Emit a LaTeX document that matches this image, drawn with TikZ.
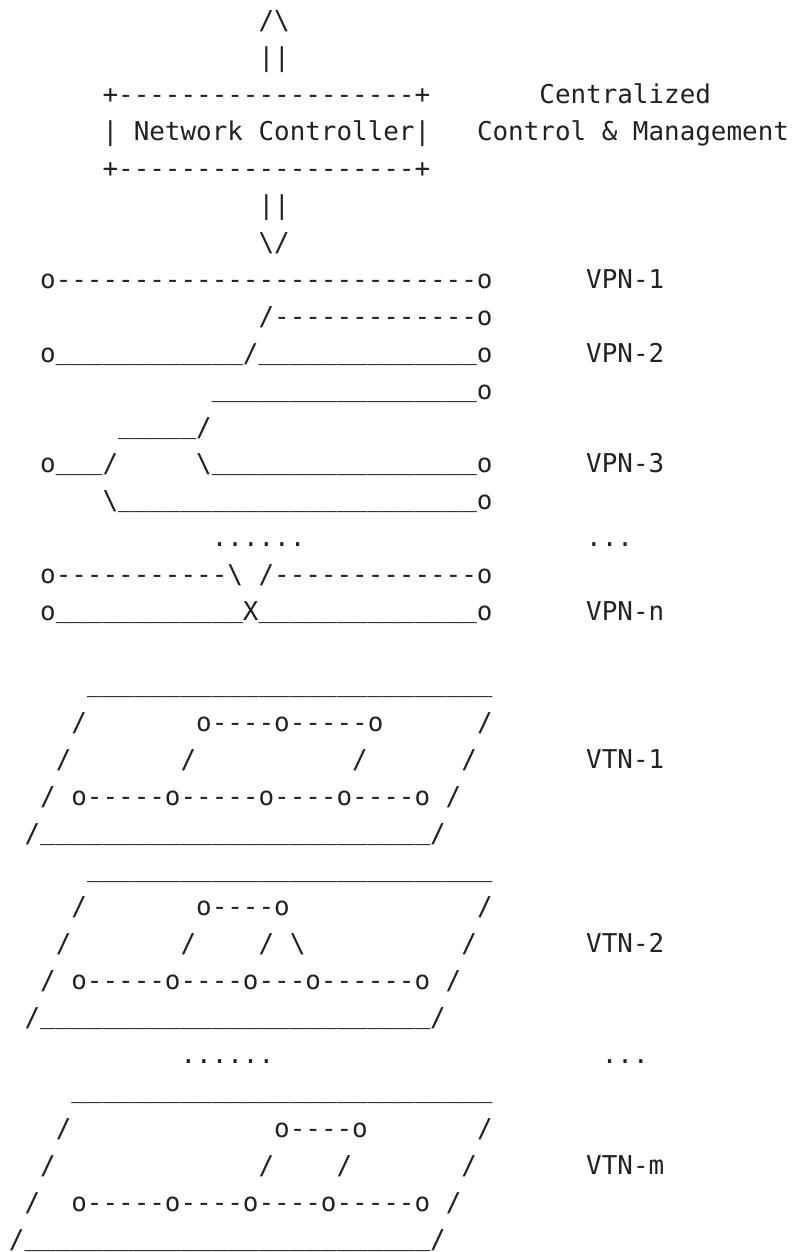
\documentclass[tikz,border=0pt]{standalone}
\usepackage{fontspec}
\newfontfamily\ascmono{DejaVu Sans Mono}[Ligatures=TeXOff]
\definecolor{asccol}{RGB}{34,34,34}
\ExplSyntaxOn
\cs_new:Npn \myrep #1#2 { \prg_replicate:nn {#1} {#2} }
\ExplSyntaxOff
\newcommand\dsh[1]{\myrep{#1}{-}}
\newcommand\usc[1]{\raisebox{3pt}{\myrep{#1}{\_}}}
\newcommand\bsl{\textbackslash}
\tikzset{
  asc/.style={anchor=base west, inner sep=0pt, outer sep=0pt,
    font=\ascmono\fontsize{25.91pt}{36.92pt}\selectfont, text=asccol}
}
\begin{document}
\begin{tikzpicture}[x=15.6pt, y={(0pt,-36.92pt)}]
\fill[white] (-0.5769,-0.8099) rectangle (50.128,33.101);
\useasboundingbox (-0.5769,-0.8099) rectangle (50.128,33.101);
% controller
\node[asc] (l0)  at (16,0) {/\bsl};
\node[asc] (l1)  at (16,1) {||};
\node[asc] (l2)  at (6,2)  {+\dsh{19}+};
\node[asc] (l2b) at (34,2) {Centralized};
\node[asc] (l3)  at (6,3)  {| Network Controller|};
\node[asc] (l3b) at (30,3) {Control \& Management};
\node[asc] (l4)  at (6,4)  {+\dsh{19}+};
\node[asc] (l5)  at (16,5) {||};
\node[asc] (l6)  at (16,6) {\bsl/};
% VPNs
\node[asc] (l7)  at (2,7)  {o\dsh{27}o};
\node[asc] (l7b) at (37,7) {VPN-1};
\node[asc] (l8)  at (16,8) {/\dsh{13}o};
\node[asc] (l9)  at (2,9)  {o\usc{12}/\usc{14}o};
\node[asc] (l9b) at (37,9) {VPN-2};
\node[asc] (l10) at (13,10) {\usc{17}o};
\node[asc] (l11) at (7,11) {\usc{5}/};
\node[asc] (l12) at (2,12) {o\usc{3}/};
\node[asc] (l12a) at (12,12) {\bsl\usc{17}o};
\node[asc] (l12b) at (37,12) {VPN-3};
\node[asc] (l13) at (6,13) {\bsl\usc{23}o};
\node[asc] (l14) at (13,14) {......};
\node[asc] (l14b) at (37,14) {...};
\node[asc] (l15) at (2,15) {o\dsh{11}\bsl{} /\dsh{13}o};
\node[asc] (l16) at (2,16) {o\usc{12}X\usc{14}o};
\node[asc] (l16b) at (37,16) {VPN-n};
% VTN-1
\node[asc] (l18) at (5,18) {\usc{26}};
\node[asc] (l19) at (4,19) {/};
\node[asc] (l19a) at (12,19) {o\dsh{4}o\dsh{5}o};
\node[asc] (l19b) at (30,19) {/};
\node[asc] (l20) at (3,20) {/};
\node[asc] (l20a) at (11,20) {/};
\node[asc] (l20c) at (22,20) {/};
\node[asc] (l20d) at (29,20) {/};
\node[asc] (l20b) at (37,20) {VTN-1};
\node[asc] (l21) at (2,21) {/ o\dsh{5}o\dsh{5}o\dsh{4}o\dsh{4}o /};
\node[asc] (l22) at (1,22) {/\usc{25}/};
% VTN-2
\node[asc] (l23) at (5,23) {\usc{26}};
\node[asc] (l24) at (4,24) {/};
\node[asc] (l24a) at (12,24) {o\dsh{4}o};
\node[asc] (l24b) at (30,24) {/};
\node[asc] (l25) at (3,25) {/};
\node[asc] (l25a) at (11,25) {/};
\node[asc] (l25c) at (16,25) {/ \bsl};
\node[asc] (l25d) at (29,25) {/};
\node[asc] (l25b) at (37,25) {VTN-2};
\node[asc] (l26) at (2,26) {/ o\dsh{5}o\dsh{4}o\dsh{3}o\dsh{6}o /};
\node[asc] (l27) at (1,27) {/\usc{25}/};
\node[asc] (l28) at (11,28) {......};
\node[asc] (l28b) at (38,28) {...};
% VTN-m
\node[asc] (l29) at (4,29) {\usc{27}};
\node[asc] (l30) at (3,30) {/};
\node[asc] (l30a) at (17,30) {o\dsh{4}o};
\node[asc] (l30b) at (30,30) {/};
\node[asc] (l31) at (2,31) {/};
\node[asc] (l31a) at (16,31) {/};
\node[asc] (l31c) at (21,31) {/};
\node[asc] (l31d) at (29,31) {/};
\node[asc] (l31b) at (37,31) {VTN-m};
\node[asc] (l32) at (1,32) {/};
\node[asc] (l32a) at (4,32) {o\dsh{5}o\dsh{4}o\dsh{4}o\dsh{5}o /};
\node[asc] (l33) at (0,33) {/\usc{26}/};
\end{tikzpicture}
\end{document}
